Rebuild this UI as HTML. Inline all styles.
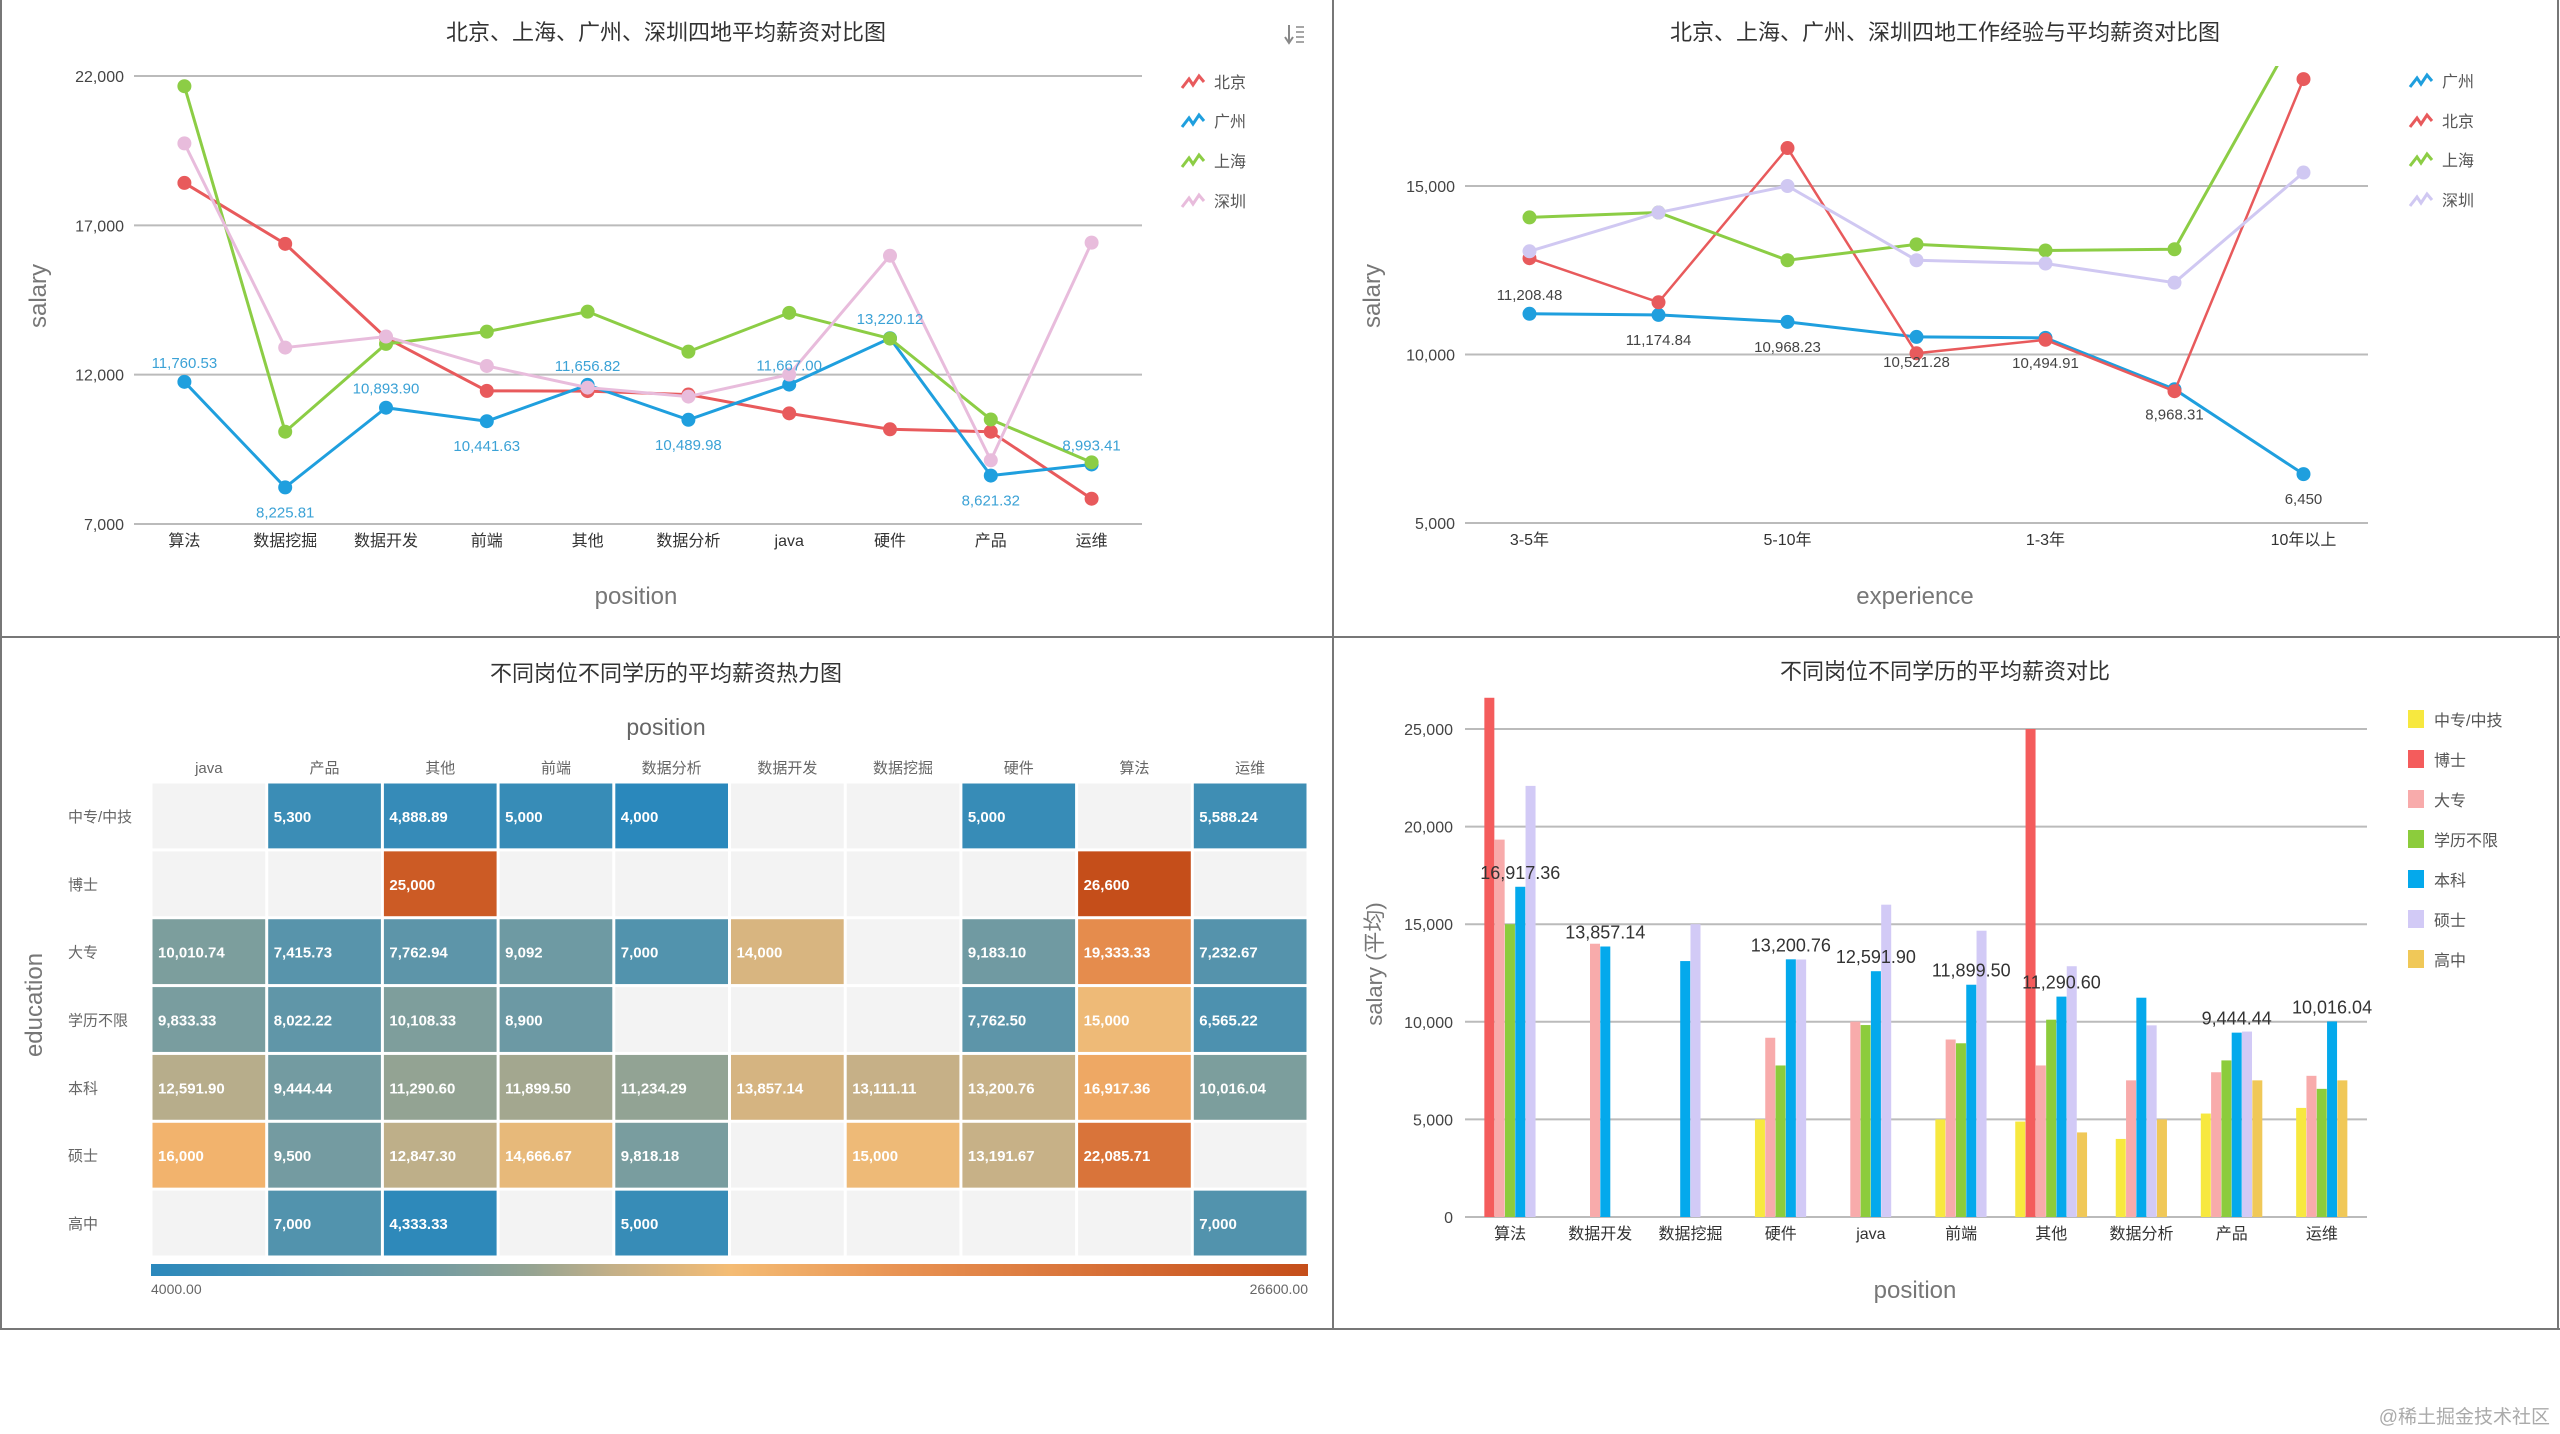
<!DOCTYPE html>
<html><head><meta charset="utf-8">
<style>
html,body{margin:0;padding:0;background:#fff;}
svg{display:block;font-family:"Liberation Sans","Noto Sans CJK SC",sans-serif;}
</style></head>
<body>
<svg id="root" width="2560" height="1434" viewBox="0 0 2560 1434" xmlns="http://www.w3.org/2000/svg">
<g id="frame">
<line x1="1" y1="0" x2="1" y2="1329" stroke="#777" stroke-width="2"/>
<line x1="1333" y1="0" x2="1333" y2="1329" stroke="#777" stroke-width="2"/>
<line x1="2558" y1="0" x2="2558" y2="1329" stroke="#777" stroke-width="2"/>
<line x1="0" y1="637" x2="2560" y2="637" stroke="#777" stroke-width="2"/>
<line x1="0" y1="1329" x2="2560" y2="1329" stroke="#777" stroke-width="2"/>
</g>
<text x="2550" y="1423" text-anchor="end" font-size="19" fill="#aaa">@稀土掘金技术社区</text>
</svg>
<script>
// ---- Chart 1 data ----
const c1Categories = ['算法','数据挖掘','数据开发','前端','其他','数据分析','java','硬件','产品','运维'];
const c1Beijing = [18420,16380,13235,11457,11450,11334,10705,10172,10090,7847];
const c1Guangzhou = [11760.53,8225.81,10893.90,10441.63,11656.82,10489.98,11667.00,13220.12,8621.32,8993.41];
const c1Shanghai = [21658,10090,13030,13440,14110,12770,14070,13208,10500,9065];
const c1Shenzhen = [19744,12907,13276,12292,11567,11266,12005,15983,9133,16421];
const c1Ticks = [7000,12000,17000,22000];
// ---- Chart 2 data ----
const c2Categories = ['3-5年','1年以下','5-10年','不限','1-3年','应届生','10年以上'];
const c2Guangzhou = [11208.48,11174.84,10968.23,10521.28,10494.91,8968.31,6450];
const c2Beijing = [12857,11550,16126,10036,10436,8910,18172];
const c2Shanghai = [14068,14213,12797,13269,13087,13123,19964];
const c2Shenzhen = [13063,14213,15000,12797,12700,12131,15400];
const c2Ticks = [5000,10000,15000];
// ---- Heatmap data ----
const hmPositions = ['java','产品','其他','前端','数据分析','数据开发','数据挖掘','硬件','算法','运维'];
const hmEducation = ['中专/中技','博士','大专','学历不限','本科','硕士','高中'];
const hmValues = [
 [null,5300,4888.89,5000,4000,null,null,5000,null,5588.24],
 [null,null,25000,null,null,null,null,null,26600,null],
 [10010.74,7415.73,7762.94,9092,7000,14000,null,9183.10,19333.33,7232.67],
 [9833.33,8022.22,10108.33,8900,null,null,null,7762.50,15000,6565.22],
 [12591.90,9444.44,11290.60,11899.50,11234.29,13857.14,13111.11,13200.76,16917.36,10016.04],
 [16000,9500,12847.30,14666.67,9818.18,null,15000,13191.67,22085.71,null],
 [null,7000,4333.33,null,5000,null,null,null,null,7000]
];
const hmMin = 4000, hmMax = 26600;
// ---- Bar chart data ----
const barCategories = ['算法','数据开发','数据挖掘','硬件','java','前端','其他','数据分析','产品','运维'];
const barSeries = ['中专/中技','博士','大专','学历不限','本科','硕士','高中'];
const barZhongzhuan = [null,null,null,5000,null,5000,4888.89,4000,5300,5588.24];
const barBoshi = [26600,null,null,null,null,null,25000,null,null,null];
const barDazhuan = [19333.33,14000,null,9183.10,10010.74,9092,7762.94,7000,7415.73,7232.67];
const barBuxian = [15000,null,null,7762.50,9833.33,8900,10108.33,null,8022.22,6565.22];
const barBenke = [16917.36,13857.14,13111.11,13200.76,12591.90,11899.50,11290.60,11234.29,9444.44,10016.04];
const barShuoshi = [22085.71,null,15000,13191.67,16000,14666.67,12847.30,9818.18,9500,null];
const barGaozhong = [null,null,null,null,null,null,4333.33,5000,7000,7000];
const barTicks = [0,5000,10000,15000,20000,25000];
const barHiddenLabels = ['数据挖掘','数据分析'];

const NS='http://www.w3.org/2000/svg';
const root=document.getElementById('root');
function mk(tag,attrs,parent,txt){const e=document.createElementNS(NS,tag);for(const k in attrs)e.setAttribute(k,attrs[k]);if(txt!==undefined)e.textContent=txt;(parent||root).appendChild(e);return e;}
function fmt(v,force2){const s=(Math.round(v*100)/100);const d=(Number.isInteger(s)&&!force2)?0:2;return s.toLocaleString('en-US',{minimumFractionDigits:d,maximumFractionDigits:d});}

function lineChart(o){
  const g=mk('g',{});
  
  
  const band=(o.x1-o.x0)/o.cats.length;
  const xs=i=>o.x0+band*(i+0.5);
  const ys=v=>o.yBase-(v-o.vBase)/(o.vTop-o.vBase)*(o.yBase-o.yTop);
  const t=mk('text',{x:o.tx,y:o.ty,'text-anchor':'middle','font-size':22,fill:'#333'},g,o.title);
  
  
  o.ticks.forEach(v=>{
    const l=mk('line',{x1:o.x0,x2:o.x1,y1:ys(v),y2:ys(v),stroke:'#bbb','stroke-width':2},g);
    
    
    const tl=mk('text',{x:o.x0-10,y:ys(v)+6,'text-anchor':'end','font-size':16,fill:'#444'},g,fmt(v));
    
    
  });
  o.cats.forEach((c,i)=>{
    if(o.skipOdd&&i%2)return;
    const cl=mk('text',{x:xs(i),y:o.yBase+22,'text-anchor':'middle','font-size':16,fill:'#333'},g,c);
    
    
  });
  const yt=mk('text',{x:0,y:0,'text-anchor':'middle','font-size':24,fill:'#777',transform:`translate(${o.ytx},${o.yty}) rotate(-90)`},g,'salary');
  
  
  const xt=mk('text',{x:o.xtx,y:o.xty,'text-anchor':'middle','font-size':24,fill:'#777'},g,o.xTitle);
  
  
  const cid='clip'+o.name;
  const cp=mk('clipPath',{id:cid},g);mk('rect',{x:o.x0-20,y:o.clipTop,width:o.x1-o.x0+40,height:o.yBase-o.clipTop+40},cp);
  const sg=mk('g',{'clip-path':`url(#${cid})`},g);
  o.series.forEach((s,si)=>{
    const pts=s.data.map((v,i)=>xs(i)+','+ys(v)).join(' ');
    const pl=mk('polyline',{points:pts,fill:'none',stroke:s.color,'stroke-width':s.lw||3},sg);
    
    
    s.data.forEach((v,i)=>{
      const c=mk('circle',{cx:xs(i),cy:ys(v),r:7,fill:s.color},sg);
      
      
    });
    const ly=o.yTop+ (o.legY[si]);
    const lg=mk('g',{},g);
    
    
    mk('polyline',{points:`${o.legX},${ly+6} ${o.legX+7},${ly-3} ${o.legX+11},${ly+3} ${o.legX+17},${ly-6} ${o.legX+22},${ly}`,fill:'none',stroke:s.color,'stroke-width':3},lg);
    mk('text',{x:o.legX+32,y:ly+6,'font-size':16,fill:'#555'},lg,s.label);
  });
  const ls=o.series.find(s=>s.labels);
  ls.data.forEach((v,i)=>{
    const below=o.labelRule(ls.data,i);
    const lt=mk('text',{x:xs(i),y:ys(v)+(below?30:-14),'text-anchor':'middle','font-size':15,fill:o.labelColor},g,fmt(v,o.force2));
    
    
  });
}

lineChart({name:'chart-city-position',title:'北京、上海、广州、深圳四地平均薪资对比图',tx:666,ty:40,force2:true,
  x0:134,x1:1142,yTop:76,yBase:524,vTop:22000,vBase:7000,clipTop:60,ticks:c1Ticks,cats:c1Categories,
  ytx:46,yty:296,xtx:636,xty:604,xTitle:'position',legX:1182,legY:[6,45,85,125],labelColor:'#3ba2d6',
  labelRule:(d,i)=>i>0&&i<d.length-1&&d[i]<d[i-1]&&d[i]<d[i+1],
  series:[
   {key:'beijing',label:'北京',color:'#e85a5c',data:c1Beijing},
   {key:'guangzhou',label:'广州',color:'#1f9fde',data:c1Guangzhou,labels:true},
   {key:'shanghai',label:'上海',color:'#8ccd45',data:c1Shanghai},
   {key:'shenzhen',label:'深圳',color:'#e8bcdc',data:c1Shenzhen}]});

lineChart({name:'chart-city-experience',title:'北京、上海、广州、深圳四地工作经验与平均薪资对比图',tx:1945,ty:40,
  x0:1465,x1:2368,yTop:186,yBase:523,vTop:15000,vBase:5000,clipTop:66,ticks:c2Ticks,cats:c2Categories,skipOdd:true,
  ytx:1380,yty:296,xtx:1915,xty:604,xTitle:'experience',legX:2410,legY:[-105,-65,-26,14],labelColor:'#444',
  labelRule:(d,i)=>i>0,
  series:[
   {key:'guangzhou',label:'广州',color:'#1f9fde',data:c2Guangzhou,labels:true},
   {key:'beijing',label:'北京',color:'#e85a5c',data:c2Beijing,lw:2.5},
   {key:'shanghai',label:'上海',color:'#8ccd45',data:c2Shanghai},
   {key:'shenzhen',label:'深圳',color:'#d0c8f2',data:c2Shenzhen}]});

// ---- Heatmap ----
(function(){
  const g=mk('g',{});
  
  
  const stops=[[0,[42,136,188]],[0.25,[118,156,160]],[0.33,[150,164,146]],[0.4,[196,176,136]],[0.5,[244,188,116]],[0.65,[232,146,82]],[0.85,[212,106,50]],[1,[197,78,26]]];
  function col(v){const t=(v-hmMin)/(hmMax-hmMin);for(let i=1;i<stops.length;i++){if(t<=stops[i][0]){const a=stops[i-1],b=stops[i];const f=(t-a[0])/(b[0]-a[0]);return 'rgb('+a[1].map((c,k)=>Math.round(c+(b[1][k]-c)*f)).join(',')+')';}}return 'rgb(197,78,26)';}
  const x0=151,x1=1308,y0=782,y1=1257;
  const cw=(x1-x0)/hmPositions.length, ch=(y1-y0)/hmEducation.length;
  const t=mk('text',{x:666,y:681,'text-anchor':'middle','font-size':22,fill:'#333'},g,'不同岗位不同学历的平均薪资热力图');
  
  
  const xt=mk('text',{x:666,y:735,'text-anchor':'middle','font-size':23,fill:'#666'},g,'position');
  
  
  const yt=mk('text',{x:0,y:0,'text-anchor':'middle','font-size':24,fill:'#777',transform:'translate(42,1005) rotate(-90)'},g,'education');
  
  
  hmPositions.forEach((p,i)=>{
    const l=mk('text',{x:x0+cw*(i+0.5),y:773,'text-anchor':'middle','font-size':15,fill:'#666'},g,p);
    
    
  });
  hmEducation.forEach((e,r)=>{
    const l=mk('text',{x:68,y:y0+ch*(r+0.5)+6,'font-size':15,fill:'#666'},g,e);
    
    
    hmValues[r].forEach((v,c)=>{
      const rc=mk('rect',{x:x0+cw*c+1.5,y:y0+ch*r+1.5,width:cw-3,height:ch-3,fill:v==null?'#f3f3f3':col(v)},g);
      
      
      if(v!=null){
        const tx=mk('text',{x:x0+cw*c+7,y:y0+ch*(r+0.5)+6,'font-size':15,'font-weight':'bold',fill:'#fff'},g,fmt(v));
        
        
      }
    });
  });
  const gr=mk('linearGradient',{id:'hmgrad',x1:0,x2:1,y1:0,y2:0},g);
  stops.forEach(s=>mk('stop',{offset:s[0],'stop-color':'rgb('+s[1].join(',')+')'},gr));
  const cb=mk('rect',{x:x0,y:1264,width:x1-x0,height:12,fill:'url(#hmgrad)'},g);
  
  
  const a=mk('text',{x:x0,y:1294,'font-size':14,fill:'#666'},g,hmMin.toFixed(2));
  
  
  const b=mk('text',{x:x1,y:1294,'text-anchor':'end','font-size':14,fill:'#666'},g,hmMax.toFixed(2));
  
  
})();

// ---- Bar chart ----
(function(){
  const g=mk('g',{});
  
  
  const data=[barZhongzhuan,barBoshi,barDazhuan,barBuxian,barBenke,barShuoshi,barGaozhong];
  const colors=['#f7e83f','#f45c5c','#f8abab','#8ccc3c','#04a9ec','#d2caf6','#f0c858'];
  const x0=1465,x1=2367,yBase=1217,yTop=729,vTop=25000;
  const band=(x1-x0)/barCategories.length;
  const ys=v=>yBase-v/vTop*(yBase-yTop);
  const t=mk('text',{x:1945,y:679,'text-anchor':'middle','font-size':22,fill:'#333'},g,'不同岗位不同学历的平均薪资对比');
  
  
  barTicks.forEach(v=>{
    const l=mk('line',{x1:x0,x2:x1,y1:ys(v),y2:ys(v),stroke:'#bbb','stroke-width':2},g);
    
    
    const tl=mk('text',{x:x0-12,y:ys(v)+6,'text-anchor':'end','font-size':16,fill:'#444'},g,fmt(v));
    
    
  });
  const step=10.3,bw=10;
  const labels=[];
  barCategories.forEach((c,i)=>{
    const cx=x0+band*(i+0.5);
    const present=[];data.forEach((s,k)=>{if(s[i]!=null)present.push(k);});
    const start=cx-present.length*step/2;
    present.forEach((k,j)=>{
      const v=data[k][i];
      const r=mk('rect',{x:start+j*step,y:ys(v),width:bw,height:yBase-ys(v),fill:colors[k]},g);
      
      
      if(k===4&&barHiddenLabels.indexOf(c)<0)labels.push([start+j*step+bw/2,ys(v)-8,v]);
    });
    const cl=mk('text',{x:cx,y:1239,'text-anchor':'middle','font-size':16,fill:'#333'},g,c);
    
    
  });
  labels.forEach(l=>{
    const lt=mk('text',{x:l[0],y:l[1],'text-anchor':'middle','font-size':18,fill:'#333'},g,fmt(l[2],true));
    
    
  });
  const yt=mk('text',{x:0,y:0,'text-anchor':'middle','font-size':22,fill:'#777',transform:'translate(1382,964) rotate(-90)'},g,'salary (平均)');
  
  
  const xt=mk('text',{x:1915,y:1298,'text-anchor':'middle','font-size':24,fill:'#777'},g,'position');
  
  
  barSeries.forEach((s,k)=>{
    const ly=720+k*40;
    const lg=mk('g',{},g);
    
    
    mk('rect',{x:2408,y:ly-10,width:16,height:18,fill:colors[k]},lg);
    mk('text',{x:2434,y:ly+6,'font-size':16,fill:'#555'},lg,s);
  });
})();

// sort icon
(function(){
  const g=mk('g',{});
  
  
  mk('line',{x1:1289,y1:25,x2:1289,y2:42,stroke:'#888','stroke-width':2},g);
  mk('polyline',{points:'1285,37 1289,43 1293,37',fill:'none',stroke:'#888','stroke-width':2},g);
  [27,32,37,42].forEach(y=>mk('line',{x1:1296,y1:y,x2:1304,y2:y,stroke:'#888','stroke-width':1.5},g));
})();
</script>
</body></html>
